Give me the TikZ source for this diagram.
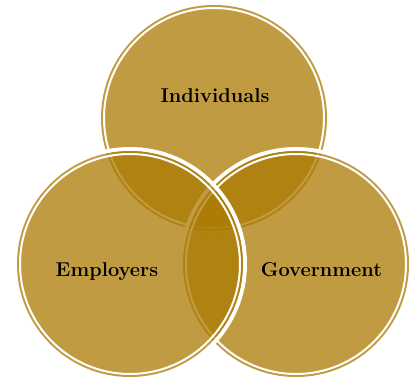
\documentclass[tikz,border=0pt]{standalone}
\definecolor{vgold}{RGB}{171,122,2}
\begin{document}
\begin{tikzpicture}[x=1pt,y=1pt,
  halo/.style={draw=white,line width=4pt},
  disc/.style={fill=vgold,fill opacity=0.75},
  ring/.style={draw=white,line width=2pt},
  lbl/.style={font=\bfseries\fontsize{20}{24}\selectfont,text=black,anchor=base,inner sep=0pt}]
\useasboundingbox (0,0) rectangle (409,382);
\foreach \cx/\cy in {214/264, 296/118, 130/118}{
  \path[halo] (\cx,\cy) circle (115);
  \path[disc] (\cx,\cy) circle (113);
  \path[ring] (\cx,\cy) circle (110);
}
\node[lbl] (ind) at (215,279) {Individuals};
\node[lbl] (emp) at (107,105) {Employers};
\node[lbl] (gov) at (321.5,105) {Government};
\end{tikzpicture}
\end{document}
